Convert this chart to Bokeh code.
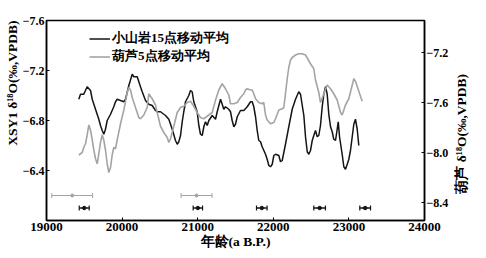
import math
from bokeh.plotting import figure
from bokeh.models import (Range1d, LinearAxis, FixedTicker, Whisker, ColumnDataSource,
                          TeeHead, Legend, LegendItem, CustomJSTickFormatter, Title)
from bokeh.embed import file_html
from bokeh.resources import INLINE

# XSY1 (小山岩) 15-point moving average, left axis
xsy_age = [19427, 19450, 19493, 19538, 19582, 19605, 19648, 19692, 19714, 19737, 19758, 19780,
           19803, 19847, 19890, 19913, 19935, 19979, 20023, 20045, 20089, 20134, 20155, 20200,
           20243, 20266, 20310, 20353, 20398, 20442, 20464, 20508, 20552, 20574, 20618, 20663,
           20706, 20729, 20750, 20773, 20795, 20816, 20839, 20882, 20905, 20927, 20948, 20993,
           21015, 21037, 21060, 21081, 21103, 21126, 21147, 21192, 21236, 21258, 21302, 21324,
           21345, 21368, 21411, 21434, 21456, 21478, 21500, 21523, 21566, 21610, 21655, 21699,
           21721, 21742, 21765, 21787, 21808, 21831, 21853, 21897, 21919, 21941, 21963, 21986,
           22007, 22029, 22073, 22095, 22118, 22161, 22205, 22250, 22294, 22337, 22360, 22404,
           22426, 22449, 22470, 22492, 22515, 22536, 22558, 22581, 22602, 22624, 22647, 22668,
           22691, 22713, 22734, 22757, 22779, 22800, 22823, 22845, 22859, 22876, 22911, 22933,
           22955, 22978, 22999, 23021, 23044, 23065, 23087, 23110, 23131]
xsy_d18o = [-6.97, -7.01, -7.01, -7.07, -7.04, -6.97, -6.89, -6.81, -6.76, -6.72, -6.69, -6.73,
            -6.80, -6.85, -6.91, -6.95, -6.97, -6.96, -6.95, -6.97, -7.08, -7.17, -7.15, -7.15,
            -7.07, -7.03, -6.96, -6.93, -6.92, -6.88, -6.87, -6.87, -6.85, -6.84, -6.81, -6.73,
            -6.64, -6.61, -6.63, -6.68, -6.79, -6.87, -6.95, -7.00, -7.04, -7.03, -6.95, -6.87,
            -6.76, -6.69, -6.68, -6.75, -6.79, -6.76, -6.80, -6.84, -6.81, -6.87, -6.97, -6.93,
            -6.89, -6.91, -6.89, -6.87, -6.80, -6.75, -6.77, -6.83, -6.88, -6.88, -6.91, -6.95,
            -6.95, -6.91, -6.83, -6.72, -6.64, -6.63, -6.59, -6.53, -6.49, -6.44, -6.43, -6.45,
            -6.52, -6.53, -6.52, -6.47, -6.48, -6.61, -6.75, -6.89, -6.97, -7.03, -7.01, -6.84,
            -6.67, -6.55, -6.53, -6.56, -6.64, -6.68, -6.72, -6.67, -6.68, -6.76, -6.91, -7.01,
            -7.07, -7.01, -6.85, -6.75, -6.71, -6.65, -6.64, -6.73, -6.79, -6.67, -6.53, -6.43,
            -6.41, -6.45, -6.49, -6.56, -6.67, -6.77, -6.81, -6.73, -6.60]

# Hulu (葫芦) 5-point moving average, right axis
hulu_age = [19427, 19472, 19493, 19516, 19538, 19560, 19582, 19605, 19626, 19648, 19671, 19692,
            19714, 19737, 19758, 19780, 19803, 19824, 19847, 19869, 19890, 19913, 19935, 19979,
            20023, 20068, 20089, 20111, 20134, 20177, 20221, 20243, 20287, 20332, 20353, 20398,
            20442, 20464, 20508, 20552, 20597, 20618, 20640, 20684, 20729, 20773, 20816, 20861,
            20905, 20948, 20993, 21037, 21081, 21147, 21192, 21236, 21279, 21324, 21368, 21411,
            21434, 21478, 21523, 21566, 21610, 21632, 21655, 21699, 21721, 21742, 21765, 21808,
            21853, 21874, 21897, 21919, 21963, 22007, 22029, 22073, 22118, 22139, 22161, 22184,
            22205, 22228, 22250, 22294, 22337, 22382, 22426, 22492, 22536, 22558, 22602, 22624,
            22668, 22713, 22757, 22800, 22845, 22889, 22911, 22955, 22999, 23044, 23065, 23087,
            23131, 23176]
hulu_d18o = [-8.02, -8.00, -7.96, -7.93, -7.86, -7.78, -7.82, -7.90, -7.98, -8.05, -8.09, -8.01,
             -7.92, -7.86, -7.90, -7.98, -8.09, -8.16, -8.12, -8.02, -7.96, -7.97, -7.90, -7.77,
             -7.66, -7.52, -7.48, -7.50, -7.56, -7.64, -7.72, -7.73, -7.70, -7.64, -7.53, -7.57,
             -7.62, -7.68, -7.79, -7.84, -7.88, -7.92, -7.89, -7.79, -7.68, -7.64, -7.63, -7.60,
             -7.59, -7.63, -7.68, -7.72, -7.73, -7.70, -7.68, -7.58, -7.50, -7.45, -7.49, -7.54,
             -7.61, -7.61, -7.60, -7.56, -7.53, -7.50, -7.49, -7.50, -7.50, -7.53, -7.57, -7.60,
             -7.61, -7.60, -7.70, -7.74, -7.77, -7.76, -7.73, -7.66, -7.65, -7.64, -7.53, -7.41,
             -7.32, -7.26, -7.24, -7.22, -7.21, -7.21, -7.22, -7.29, -7.33, -7.42, -7.52, -7.60,
             -7.53, -7.46, -7.49, -7.53, -7.58, -7.68, -7.70, -7.62, -7.57, -7.46, -7.41, -7.43,
             -7.51, -7.59]

# dating errors (age ± 2σ)
hulu_date = [19340, 20985]
hulu_date_err = [270, 205]
xsy_date = [19499, 21002, 21848, 22613, 23215]
xsy_date_err = [66, 62, 70, 77, 71]

x_ticks = [19000, 20000, 21000, 22000, 23000, 24000]
left_ticks = [-7.6, -7.2, -6.8, -6.4]
right_ticks = [-8.4, -8.0, -7.6, -7.2]

FONT = "Liberation Serif"
BLACK = "#141414"
GRAY = "#a4a4a4"

p = figure(frame_width=378, frame_height=200, output_backend="svg", toolbar_location=None,
           x_range=Range1d(19000, 24000), y_range=Range1d(-6.0, -7.6),
           min_border_left=46, min_border_right=60, min_border_top=20, min_border_bottom=32)
p.xgrid.visible = False
p.ygrid.visible = False
p.outline_line_color = "black"
p.outline_line_width = 1.5
p.background_fill_color = "white"

p.extra_y_ranges = {"hulu": Range1d(-8.544, -6.944)}
rax = LinearAxis(y_range_name="hulu")
p.add_layout(rax, "right")

fmt = CustomJSTickFormatter(code="return tick.toFixed(1).replace('-', '\u2212');")

p.xaxis.ticker = FixedTicker(ticks=x_ticks)
p.yaxis[0].ticker = FixedTicker(ticks=left_ticks)
rax.ticker = FixedTicker(ticks=right_ticks)
p.yaxis[0].formatter = fmt
rax.formatter = fmt

p.xaxis.axis_label = "年龄(a B.P.)"
# two em spaces lift the bottom-anchored title to where it sits in the original
rax.axis_label = "\u2003\u2003葫芦 δ¹⁸O(‰,VPDB)"

for ax in [p.xaxis[0], p.yaxis[0], rax]:
    ax.major_tick_in = 3
    ax.major_tick_out = 0
    ax.minor_tick_line_color = None
    ax.axis_line_color = "black"
    ax.axis_line_width = 1.5
    ax.major_tick_line_color = "black"
    ax.major_label_text_font = FONT
    ax.major_label_text_font_size = "12px"
    ax.major_label_text_font_style = "bold"
    ax.major_label_text_color = "black"
    ax.axis_label_text_font = FONT
    ax.axis_label_text_font_size = "13.5px"
    ax.axis_label_text_font_style = "bold"
    ax.axis_label_text_color = "black"
    ax.major_label_standoff = 2
    ax.axis_label_standoff = 2
p.xaxis[0].major_label_text_font_size = "13px"
p.xaxis[0].axis_label_standoff = 0
rax.axis_label_standoff = 10
# right title reads bottom-to-top
rax.axis_label_orientation = math.pi / 2
rax.axis_label_align = "start"

# left title: reads bottom-to-top, ends near the top of the axis
left_title = Title(text="XSY1 δ¹⁸O(‰,VPDB)", align="right", offset=0,
                   text_font=FONT, text_font_size="13.5px", text_font_style="bold",
                   text_color="black", standoff=0)
p.add_layout(left_title, "left")

r_xsy = p.line(xsy_age, xsy_d18o, line_color=BLACK, line_width=1.5)
r_hulu = p.line(hulu_age, hulu_d18o, y_range_name="hulu", line_color=GRAY, line_width=1.6)

# age error bars
GRAY_ROW = -6.20
BLACK_ROW = -6.10
src_h = ColumnDataSource(dict(x=hulu_date, y=[GRAY_ROW] * len(hulu_date),
                              lo=[c - e for c, e in zip(hulu_date, hulu_date_err)],
                              hi=[c + e for c, e in zip(hulu_date, hulu_date_err)]))
src_x = ColumnDataSource(dict(x=xsy_date, y=[BLACK_ROW] * len(xsy_date),
                              lo=[c - e for c, e in zip(xsy_date, xsy_date_err)],
                              hi=[c + e for c, e in zip(xsy_date, xsy_date_err)]))
p.add_layout(Whisker(source=src_h, base="y", lower="lo", upper="hi", dimension="width",
                     line_color=GRAY, line_width=1,
                     upper_head=TeeHead(size=5, line_color=GRAY, line_width=1),
                     lower_head=TeeHead(size=5, line_color=GRAY, line_width=1)))
p.add_layout(Whisker(source=src_x, base="y", lower="lo", upper="hi", dimension="width",
                     line_color=BLACK, line_width=1.5,
                     upper_head=TeeHead(size=5, line_color=BLACK, line_width=1.2),
                     lower_head=TeeHead(size=5, line_color=BLACK, line_width=1.2)))
p.scatter("x", "y", source=src_h, size=3, color=GRAY)
p.scatter("x", "y", source=src_x, size=3.5, color=BLACK)

legend = Legend(items=[LegendItem(label="小山岩15点移动平均", renderers=[r_xsy]),
                       LegendItem(label="葫芦5点移动平均", renderers=[r_hulu])],
                location=(43, 155))
legend.border_line_color = None
legend.background_fill_alpha = 0
legend.padding = 0
legend.margin = 0
legend.spacing = -8
legend.glyph_height = 13
legend.label_height = 13
legend.glyph_width = 21
legend.label_standoff = 2
legend.label_text_font = FONT
legend.label_text_font_size = "13px"
legend.label_text_font_style = "bold"
legend.label_text_color = "black"
p.add_layout(legend)

open("out.html", "w").write(file_html(p, INLINE))
